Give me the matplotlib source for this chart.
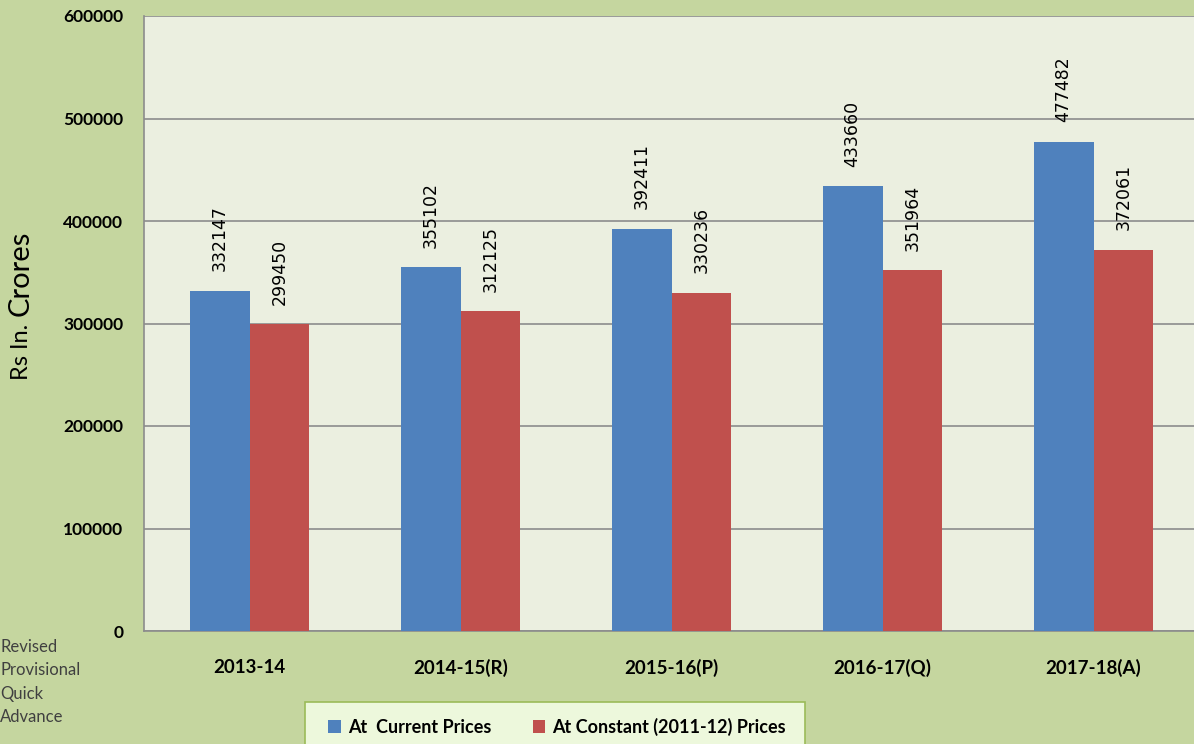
import numpy as np
import matplotlib
matplotlib.use('Agg')
import matplotlib.pyplot as plt
from matplotlib.patches import Rectangle

plt.rcParams['font.family'] = ['Lato', 'DejaVu Sans']

# Data
years = ['2013-14', '2014-15(R)', '2015-16(P)', '2016-17(Q)', '2017-18(A)']
current_prices = [332147, 355102, 392411, 433660, 477482]
constant_prices = [299450, 312125, 330236, 351964, 372061]
yticks = [0, 100000, 200000, 300000, 400000, 500000, 600000]
notes = ['Revised', 'Provisional', 'Quick', 'Advance']

blue = '#4F81BD'
red = '#C0504D'
fig_bg = '#C5D69F'
plot_bg = '#EBEFE0'

W, H = 1194, 744
fig = plt.figure(figsize=(W / 100, H / 100), dpi=100, facecolor=fig_bg)
ax = fig.add_axes([144 / W, (H - 631) / H, 1055 / W, 615 / H])
ax.set_facecolor(plot_bg)

x = np.arange(len(years))
w = 0.284
b1 = ax.bar(x - w / 2, current_prices, w, color=blue, label='At  Current Prices', zorder=3)
b2 = ax.bar(x + w / 2, constant_prices, w, color=red, label='At Constant (2011-12) Prices', zorder=3)

for bars, vals in ((b1, current_prices), (b2, constant_prices)):
    for bar, v in zip(bars, vals):
        ax.annotate(str(v), (bar.get_x() + bar.get_width() / 2, v),
                    xytext=(0, 14), textcoords='offset points',
                    rotation=90, ha='center', va='bottom', fontsize=12.5,
                    family=['DejaVu Sans'], color='black')

ax.set_xlim(-0.5, len(years) - 0.5)
ax.set_ylim(0, 600000)
ax.set_yticks(yticks)
ax.set_yticklabels([str(t) for t in yticks], fontsize=12.5, fontweight='bold')
ax.set_xticks(x)
ax.set_xticklabels(years, fontsize=13.5, fontweight='bold')
ax.tick_params(axis='both', length=0)
ax.tick_params(axis='y', pad=15)
ax.tick_params(axis='x', pad=20)
ax.grid(axis='y', color='#8C8C8C', linewidth=1.2, zorder=0)
for side in ('top', 'right'):
    ax.spines[side].set_visible(False)
for side in ('left', 'bottom'):
    ax.spines[side].set_color('#8C8C8C')
    ax.spines[side].set_linewidth(1.2)

# y label with two sizes
fig.text(21 / W, 1 - 352 / H, 'Rs In.', rotation=90, ha='center', va='center', fontsize=17)
fig.text(21 / W, 1 - 273 / H, 'Crores', rotation=90, ha='center', va='center', fontsize=21)

# notes on the left
for i, t in enumerate(notes):
    fig.text(0, 1 - (647 + i * 23.3) / H, t, ha='left', va='center',
             fontsize=12, color='#404040')

# legend box
box = Rectangle((305 / W, 1 - 760 / H), 500 / W, 58 / H, transform=fig.transFigure,
                facecolor='#EDF8DC', edgecolor='#9BBB59', linewidth=1.2, zorder=1)
fig.patches.append(box)
fig.legend(handles=[b1, b2], loc='center', bbox_to_anchor=(557 / W, 1 - 727 / H),
           ncol=2, frameon=False, prop={'weight': 'bold', 'size': 13},
           handlelength=0.7, handleheight=0.7, handletextpad=0.4, columnspacing=2.3)

fig.savefig('out.png', dpi=100, facecolor=fig_bg)
